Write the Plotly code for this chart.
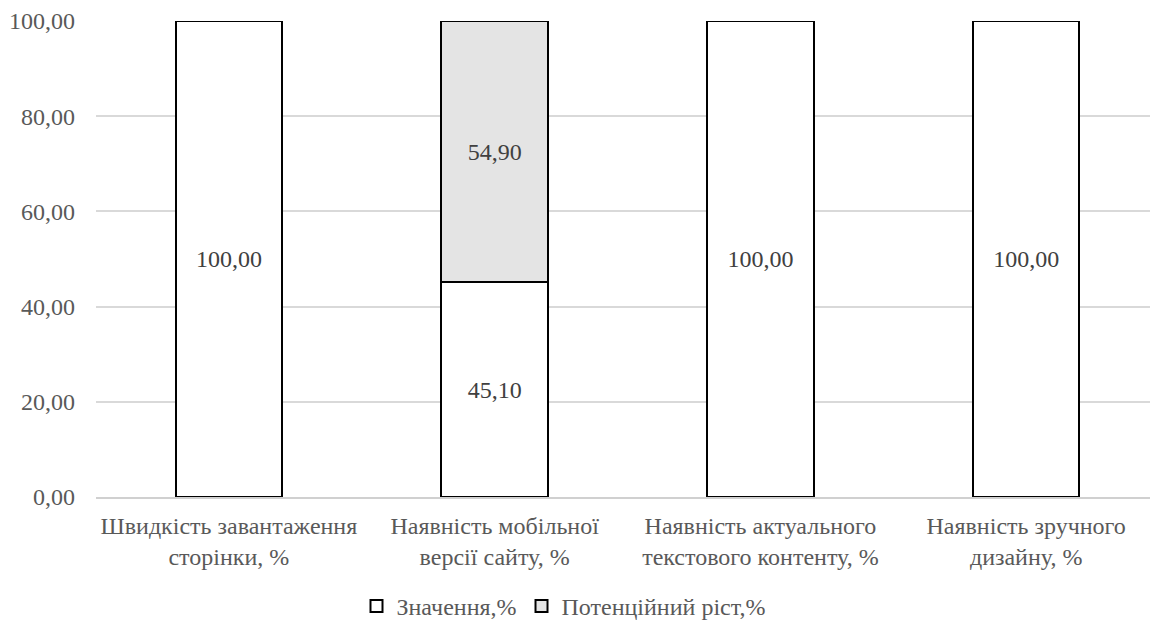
import plotly.graph_objects as go

categories = [
    "Швидкість завантаження<br>сторінки, %",
    "Наявність мобільної<br>версії сайту, %",
    "Наявність актуального<br>текстового контенту, %",
    "Наявність зручного<br>дизайну, %",
]
values_main = [100.00, 45.10, 100.00, 100.00]
values_growth = [0.00, 54.90, 0.00, 0.00]
series_names = ["Значення,%", "Потенційний ріст,%"]
y_ticks = [0, 20, 40, 60, 80, 100]


def labels(vals):
    return ["" if v == 0 else f"{v:.2f}".replace(".", ",") for v in vals]


font_family = "Liberation Serif"

fig = go.Figure()
fig.add_trace(go.Bar(
    x=categories, y=values_main, name=series_names[0],
    marker=dict(color="#ffffff", line=dict(color="#000000", width=2)),
    text=labels(values_main), textposition="inside", insidetextanchor="middle",
    textfont=dict(family=font_family, size=24, color="#404040"),
    width=0.4,
))
fig.add_trace(go.Bar(
    x=categories, y=values_growth, name=series_names[1],
    marker=dict(color="#e4e4e4", line=dict(color="#000000", width=2)),
    text=labels(values_growth), textposition="inside", insidetextanchor="middle",
    textfont=dict(family=font_family, size=24, color="#404040"),
    width=0.4,
))

fig.update_layout(
    barmode="stack",
    width=1150, height=622,
    margin=dict(l=96, r=0, t=21, b=125),
    paper_bgcolor="#ffffff", plot_bgcolor="#ffffff",
    separators=", ",
    font=dict(family=font_family, size=24, color="#595959"),
    showlegend=True,
    legend=dict(
        orientation="h", xref="container", x=0.49, xanchor="center",
        yref="container", y=0.025, yanchor="middle",
        font=dict(family=font_family, size=24, color="#595959"),
        traceorder="normal", itemwidth=30,
    ),
    uniformtext=dict(mode=False),
)
fig.update_xaxes(
    range=[-0.5, 3.466], showgrid=False, showline=True,
    linecolor="#d0d0d0", linewidth=1.5,
    tickfont=dict(family=font_family, size=24, color="#595959"),
    ticks="", ticklabelstandoff=6, automargin=False,
)
fig.update_yaxes(
    range=[0, 100], tickvals=y_ticks, tickformat=".2f",
    showgrid=True, gridcolor="#d9d9d9", gridwidth=1.5,
    zeroline=False, showline=False, ticks="",
    tickfont=dict(family=font_family, size=24, color="#595959"),
    ticklabelstandoff=20, automargin=False,
)

fig.write_html(
    "out.html",
    config={"displayModeBar": False},
    post_script="document.body.style.margin='0';document.body.style.overflow='hidden';",
)
